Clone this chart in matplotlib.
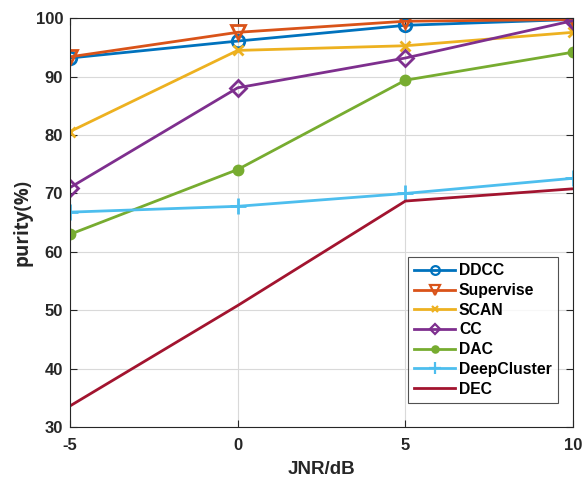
import matplotlib
matplotlib.use("Agg")
import matplotlib.pyplot as plt
from matplotlib.lines import Line2D

plt.rcParams['font.family'] = ['Liberation Sans', 'DejaVu Sans']
plt.rcParams['font.weight'] = 'bold'

jnr = [-5, 0, 5, 10]
ddcc = [93.2, 96.1, 98.8, 99.8]
supervise = [93.4, 97.6, 99.5, 99.8]
scan = [80.6, 94.5, 95.3, 97.6]
cc = [71.0, 88.1, 93.2, 99.6]
dac = [63.0, 74.1, 89.4, 94.2]
deepcluster = [66.8, 67.8, 70.0, 72.6]
dec = [33.6, 50.8, 68.7, 70.8]

series = [
    ("DDCC", ddcc, "#0072BD", "o", 9, 'none'),
    ("Supervise", supervise, "#D95319", "v", 10, 'none'),
    ("SCAN", scan, "#EDB120", "x", 7, None),
    ("CC", cc, "#7E2F8E", "D", 8, 'none'),
    ("DAC", dac, "#77AC30", ".", 13, None),
    ("DeepCluster", deepcluster, "#4DBEEE", "+", 12, None),
    ("DEC", dec, "#A2142F", None, 0, None),
]

fig = plt.figure(figsize=(5.83, 4.78), dpi=100)
ax = fig.add_axes([0.120, 0.1067, 0.863, 0.855])

for name, vals, color, m, ms, mfc in series:
    kw = dict(color=color, lw=2, label=name)
    if m is not None:
        kw.update(marker=m, markersize=ms, markeredgewidth=2)
        if mfc is not None:
            kw['markerfacecolor'] = mfc
    ax.plot(jnr, vals, **kw)

ax.set_xlim(-5, 10)
ax.set_ylim(30, 100)
ax.set_xticks(jnr)
ax.set_xticklabels(["-5", "0", "5", "10"])
ax.set_yticks(range(30, 101, 10))
ax.grid(True, color='#d9d9d9', lw=0.8)
ax.set_axisbelow(True)
ax.tick_params(direction='in', top=True, right=True, labelsize=12, width=0.8, length=5, colors='#262626', labelcolor='#262626')
ax.tick_params(axis='x', pad=8)
ax.tick_params(axis='y', pad=5)
for lbl in ax.get_xticklabels() + ax.get_yticklabels():
    lbl.set_fontweight('bold')
for s in ax.spines.values():
    s.set_color('#262626')
    s.set_linewidth(0.8)
ax.set_xlabel("JNR/dB", fontsize=13.5, fontweight='bold', color='#262626', labelpad=6)
ax.set_ylabel("purity(%)", fontsize=13.5, fontweight='bold', color='#262626',
              family=['Open Sans', 'DejaVu Sans'], labelpad=2)

handles = []
for name, vals, color, m, ms, mfc in series:
    kw = dict(color=color, lw=2)
    if m is not None:
        kw.update(marker=m, markersize=ms * 0.7, markeredgewidth=1.6)
        if mfc is not None:
            kw['markerfacecolor'] = mfc
    handles.append(Line2D([], [], **kw))

leg = ax.legend(handles, [s[0] for s in series], loc='lower right', bbox_to_anchor=(0.970, 0.059),
                borderaxespad=0, fontsize=11.3, frameon=True, fancybox=False,
                edgecolor='#262626', handlelength=2.6, borderpad=0.4, labelspacing=0.3, handletextpad=0.25)
leg.get_frame().set_linewidth(0.8)
for t in leg.get_texts():
    t.set_fontweight('bold')

fig.savefig("out.png", dpi=100, facecolor='white')
